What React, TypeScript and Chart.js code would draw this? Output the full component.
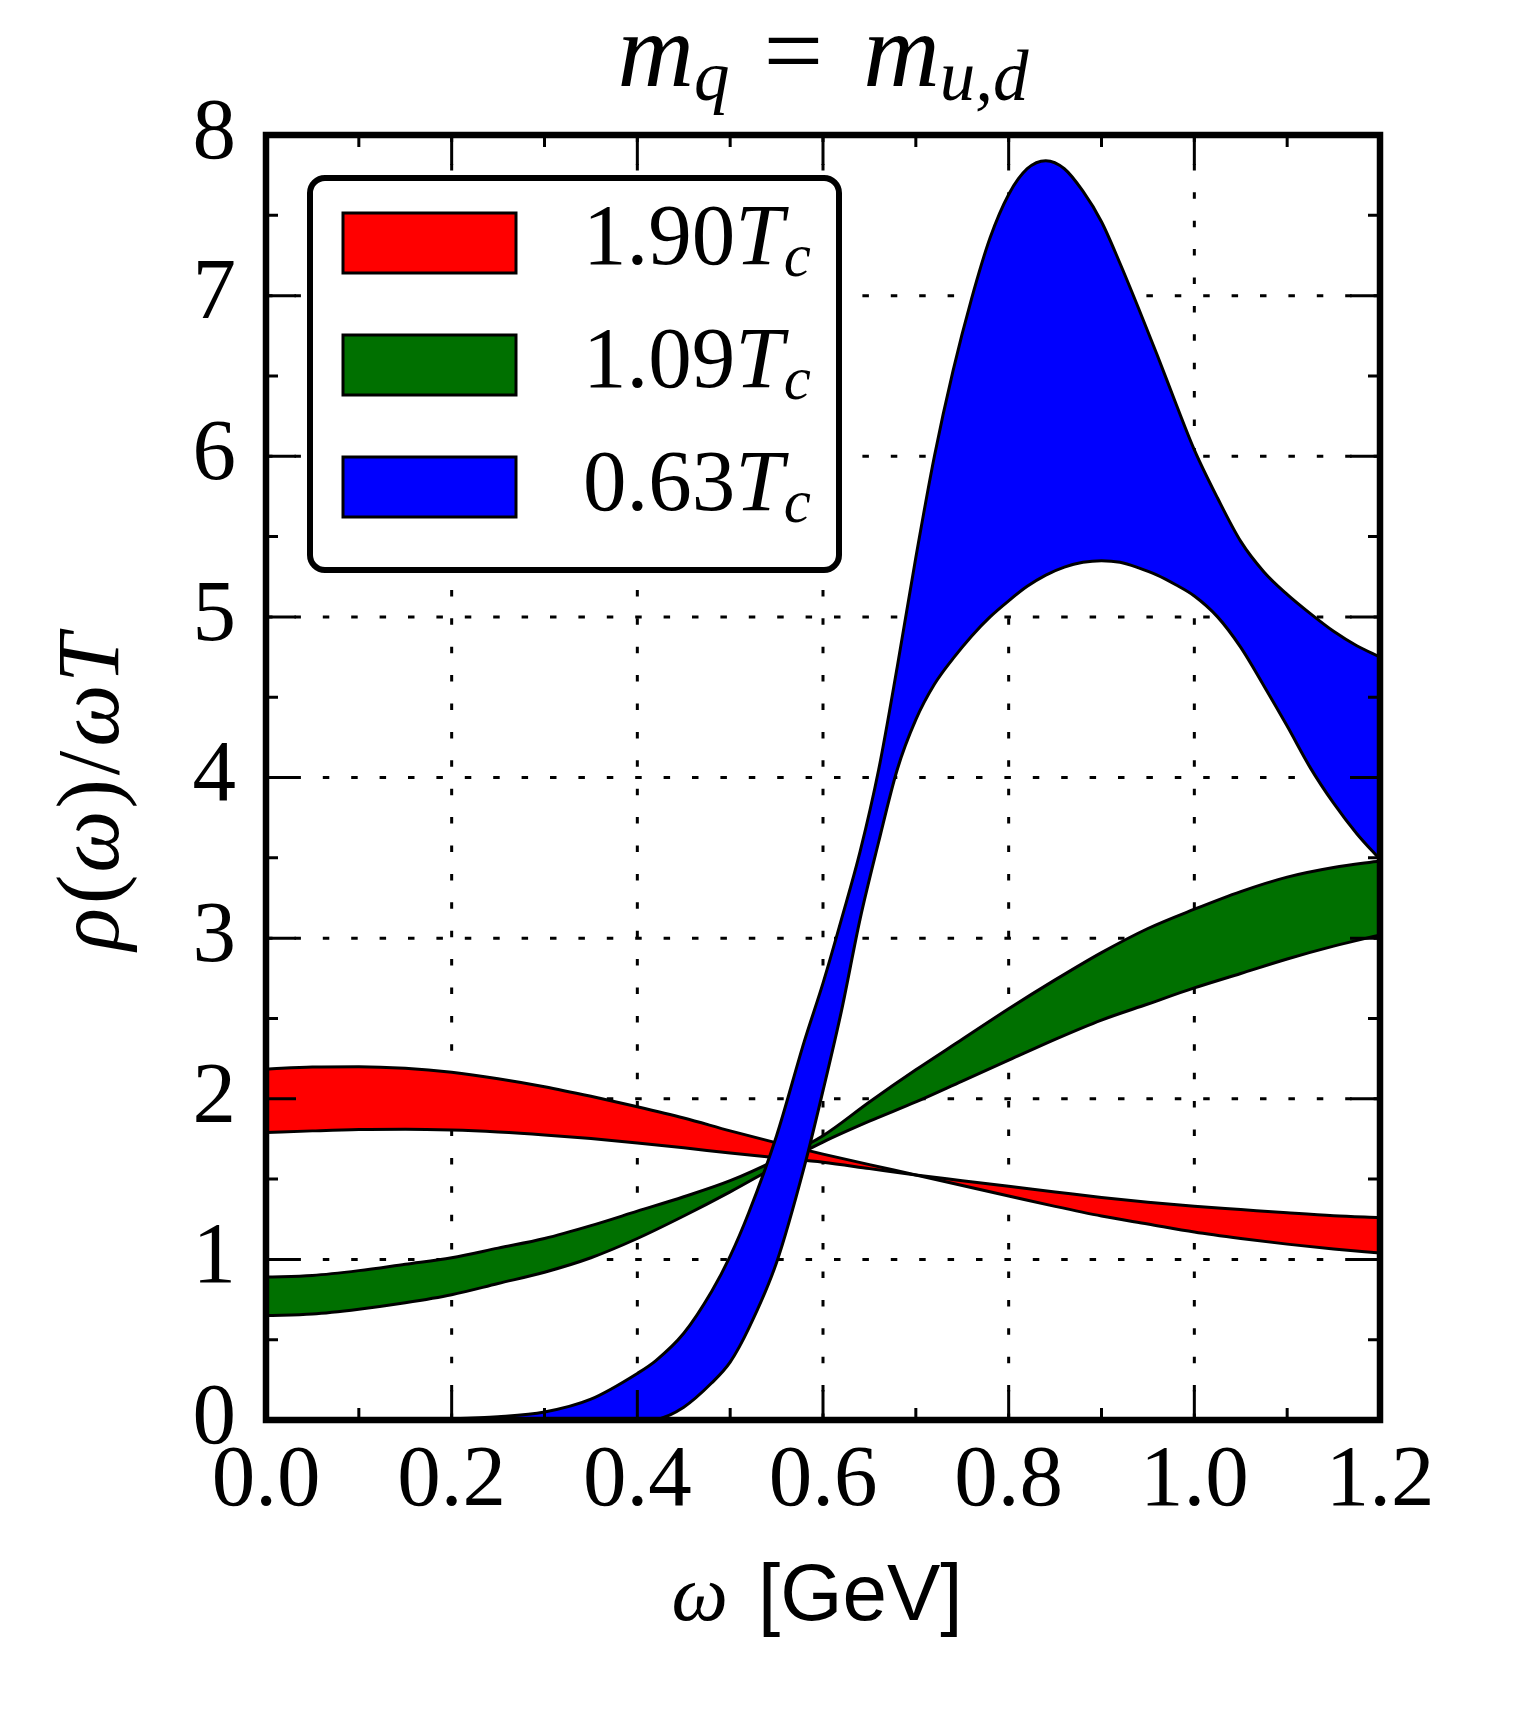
import { useEffect, useRef } from "react"
import { Chart, registerables } from "chart.js"

Chart.register(...registerables)

// omega grid (GeV) shared by the red and green bands
const omega = [0, 0.05, 0.1, 0.15, 0.2, 0.25, 0.3, 0.35, 0.4, 0.45, 0.5, 0.55, 0.6, 0.65, 0.7, 0.75, 0.8, 0.85, 0.9, 0.95, 1.0, 1.05, 1.1, 1.15, 1.2]

// 1.90 Tc band
const redUpper = [2.185, 2.198, 2.2, 2.19, 2.165, 2.125, 2.075, 2.015, 1.95, 1.88, 1.8, 1.725, 1.655, 1.59, 1.525, 1.46, 1.395, 1.33, 1.27, 1.22, 1.17, 1.13, 1.095, 1.065, 1.04]
const redLower = [1.79, 1.8, 1.808, 1.81, 1.805, 1.793, 1.775, 1.752, 1.725, 1.695, 1.662, 1.632, 1.605, 1.565, 1.525, 1.49, 1.455, 1.42, 1.385, 1.355, 1.33, 1.31, 1.29, 1.272, 1.26]

// 1.09 Tc band
const greenUpper = [0.89, 0.9, 0.93, 0.97, 1.01, 1.07, 1.13, 1.21, 1.3, 1.39, 1.49, 1.62, 1.77, 1.98, 2.18, 2.37, 2.56, 2.74, 2.91, 3.06, 3.18, 3.29, 3.38, 3.44, 3.48]
const greenLower = [0.65, 0.66, 0.69, 0.73, 0.78, 0.85, 0.92, 1.01, 1.13, 1.27, 1.42, 1.58, 1.73, 1.86, 1.98, 2.11, 2.24, 2.37, 2.49, 2.59, 2.69, 2.78, 2.87, 2.95, 3.02]

// 0.63 Tc band (finer grid around the peak)
const blueOmega = [0, 0.05, 0.1, 0.15, 0.2, 0.25, 0.3, 0.35, 0.4, 0.42, 0.45, 0.48, 0.5, 0.52, 0.55, 0.58, 0.6, 0.62, 0.64, 0.66, 0.68, 0.7, 0.72, 0.74, 0.76, 0.78, 0.8, 0.82, 0.84, 0.86, 0.88, 0.9, 0.92, 0.94, 0.96, 0.98, 1.0, 1.025, 1.05, 1.075, 1.1, 1.125, 1.15, 1.175, 1.2]
const blueUpper = [0, 0, 0, 0.002, 0.007, 0.02, 0.05, 0.13, 0.29, 0.37, 0.54, 0.8, 1.02, 1.29, 1.77, 2.36, 2.72, 3.12, 3.54, 4.05, 4.69, 5.37, 6.0, 6.53, 6.98, 7.36, 7.63, 7.79, 7.84, 7.79, 7.65, 7.46, 7.2, 6.92, 6.63, 6.33, 6.04, 5.74, 5.47, 5.28, 5.14, 5.02, 4.91, 4.82, 4.75]
const blueLower = [0, 0, 0, 0, 0, 0, 0, 0, 0, 0.005, 0.08, 0.23, 0.36, 0.57, 0.98, 1.58, 2.05, 2.55, 3.12, 3.6, 4.05, 4.36, 4.58, 4.74, 4.88, 5.0, 5.1, 5.19, 5.26, 5.31, 5.34, 5.35, 5.34, 5.305, 5.26, 5.2, 5.13, 5.0, 4.81, 4.57, 4.32, 4.06, 3.84, 3.65, 3.49]

// ticks
const xMajor = [0, 0.2, 0.4, 0.6, 0.8, 1.0, 1.2]
const xMinor = [0.1, 0.3, 0.5, 0.7, 0.9, 1.1]
const yMajor = [0, 1, 2, 3, 4, 5, 6, 7, 8]
const yMinor = [0.5, 1.5, 2.5, 3.5, 4.5, 5.5, 6.5, 7.5]

// legend
const legendValues = ["1.90", "1.09", "0.63"]
const bandColors = ["#ff0000", "#007000", "#0000ff"]

const SERIF = '"Liberation Serif", "DejaVu Serif", serif'
const SANS = '"Liberation Sans", "DejaVu Sans", sans-serif'

type Run = { text: string; font: string; dy?: number; gap?: number }

const runsWidth = (ctx: CanvasRenderingContext2D, runs: Run[]) =>
  runs.reduce((w, r) => {
    ctx.font = r.font
    return w + (r.gap || 0) + ctx.measureText(r.text).width
  }, 0)

const drawRuns = (ctx: CanvasRenderingContext2D, runs: Run[], x: number, y: number) => {
  let cx = x
  for (const r of runs) {
    cx += r.gap || 0
    ctx.font = r.font
    ctx.fillText(r.text, cx, y + (r.dy || 0))
    cx += ctx.measureText(r.text).width
  }
}

const toPoints = (xs: number[], ys: number[]) => xs.map((x, i) => ({ x, y: ys[i] }))

// matplotlib-like frame, inward ticks, dotted grid, legend and labels
const framePlugin = {
  id: "mplFrame",
  beforeDatasetsDraw(chart: any) {
    const { ctx, chartArea: a, scales } = chart
    ctx.save()
    ctx.strokeStyle = "#000"
    ctx.lineWidth = 3
    ctx.setLineDash([6.5, 21.9])
    xMajor.slice(1, -1).forEach((v) => {
      const px = scales.x.getPixelForValue(v)
      ctx.beginPath()
      ctx.moveTo(px, a.bottom)
      ctx.lineTo(px, a.top)
      ctx.stroke()
    })
    yMajor.slice(1, -1).forEach((v) => {
      const py = scales.y.getPixelForValue(v)
      ctx.beginPath()
      ctx.moveTo(a.left, py)
      ctx.lineTo(a.right, py)
      ctx.stroke()
    })
    ctx.restore()
  },
  afterDatasetsDraw(chart: any) {
    const { ctx, chartArea: a, scales } = chart
    ctx.save()
    ctx.strokeStyle = "#000"
    ctx.lineWidth = 3
    const tick = (vals: number[], len: number) => {
      vals.forEach((v) => {
        const px = scales.x.getPixelForValue(v)
        ctx.beginPath()
        ctx.moveTo(px, a.bottom)
        ctx.lineTo(px, a.bottom - len)
        ctx.moveTo(px, a.top)
        ctx.lineTo(px, a.top + len)
        ctx.stroke()
      })
    }
    const ytick = (vals: number[], len: number) => {
      vals.forEach((v) => {
        const py = scales.y.getPixelForValue(v)
        ctx.beginPath()
        ctx.moveTo(a.left, py)
        ctx.lineTo(a.left + len, py)
        ctx.moveTo(a.right, py)
        ctx.lineTo(a.right - len, py)
        ctx.stroke()
      })
    }
    tick(xMajor, 30)
    tick(xMinor, 12)
    ytick(yMajor, 30)
    ytick(yMinor, 12)
    ctx.lineWidth = 6.5
    ctx.lineJoin = "miter"
    ctx.strokeRect(a.left, a.top, a.right - a.left, a.bottom - a.top)
    ctx.restore()
  },
  afterDraw(chart: any) {
    const { ctx, chartArea: a } = chart
    ctx.save()
    ctx.fillStyle = "#000"
    ctx.textAlign = "left"
    ctx.textBaseline = "alphabetic"

    // legend box
    ctx.beginPath()
    ctx.roundRect(310, 178, 529, 392, 15)
    ctx.fillStyle = "#fff"
    ctx.fill()
    ctx.lineWidth = 6
    ctx.strokeStyle = "#000"
    ctx.stroke()
    legendValues.forEach((val, i) => {
      const top = 213 + i * 122
      ctx.fillStyle = bandColors[i]
      ctx.fillRect(343, top, 173, 60)
      ctx.lineWidth = 3
      ctx.strokeStyle = "#000"
      ctx.strokeRect(343, top, 173, 60)
      ctx.fillStyle = "#000"
      drawRuns(
        ctx,
        [
          { text: val, font: `87px ${SERIF}` },
          { text: "T", font: `italic 87px ${SERIF}` },
          { text: "c", font: `italic 61px ${SERIF}`, dy: 12 },
        ],
        583,
        264 + i * 123,
      )
    })

    // title
    const cx = (a.left + a.right) / 2
    const title: Run[] = [
      { text: "m", font: `italic 106px ${SERIF}` },
      { text: "q", font: `italic 71px ${SERIF}`, dy: 14 },
      { text: "=", font: `106px ${SERIF}`, gap: 34 },
      { text: "m", font: `italic 106px ${SERIF}`, gap: 40 },
      { text: "u,d", font: `italic 71px ${SERIF}`, dy: 14 },
    ]
    drawRuns(ctx, title, cx - runsWidth(ctx, title) / 2, 86)

    // x label
    const xl: Run[] = [
      { text: "ω", font: `italic 80px ${SERIF}` },
      { text: "[GeV]", font: `80px ${SANS}`, gap: 30 },
    ]
    drawRuns(ctx, xl, cx - 6 - runsWidth(ctx, xl) / 2, 1620)

    // y label
    const yl: Run[] = [
      { text: "ρ", font: `italic 88px ${SERIF}` },
      { text: "(", font: `88px ${SERIF}`, gap: 4 },
      { text: "ω", font: `italic 88px ${SERIF}`, gap: 2 },
      { text: ")", font: `88px ${SERIF}`, gap: 2 },
      { text: "/", font: `88px ${SERIF}`, gap: 4 },
      { text: "ω", font: `italic 88px ${SERIF}`, gap: 4 },
      { text: "T", font: `italic 88px ${SERIF}`, gap: 2 },
    ]
    ctx.translate(118, 792)
    ctx.rotate(-Math.PI / 2)
    drawRuns(ctx, yl, -runsWidth(ctx, yl) / 2, 0)
    ctx.restore()
  },
}

export default function App() {
  const canvasRef = useRef<HTMLCanvasElement | null>(null)

  useEffect(() => {
    document.body.style.margin = "0"
    const canvas = canvasRef.current
    if (!canvas) return

    // each band: upper edge (no fill) then lower edge filled up to it
    const band = (upper: number[], lower: number[], xs: number[], color: string) => [
      { data: toPoints(xs, upper), fill: false, backgroundColor: color },
      { data: toPoints(xs, lower), fill: "-1", backgroundColor: color },
    ]

    const chart = new Chart(canvas, {
      type: "line",
      data: {
        datasets: [
          ...band(blueUpper, blueLower, blueOmega, bandColors[2]),
          ...band(greenUpper, greenLower, omega, bandColors[1]),
          ...band(redUpper, redLower, omega, bandColors[0]),
        ] as any,
      },
      options: {
        responsive: false,
        devicePixelRatio: 1,
        animation: false,
        layout: { padding: { top: 135, right: 136, left: 0, bottom: 0 } },
        elements: {
          line: { borderWidth: 3, borderColor: "#000", cubicInterpolationMode: "monotone" },
          point: { radius: 0, hoverRadius: 0 },
        },
        plugins: {
          legend: { display: false },
          tooltip: { enabled: false },
        },
        scales: {
          x: {
            type: "linear",
            min: 0,
            max: 1.2,
            grid: { display: false, drawTicks: false },
            border: { display: false },
            ticks: {
              stepSize: 0.2,
              autoSkip: false,
              maxRotation: 0,
              padding: 10,
              color: "#000",
              font: { family: SERIF, size: 87 },
              callback: (v: any) => Number(v).toFixed(1),
            },
            afterFit: (scale: any) => {
              scale.height = 298
            },
          },
          y: {
            type: "linear",
            min: 0,
            max: 8,
            grid: { display: false, drawTicks: false },
            border: { display: false },
            ticks: {
              stepSize: 1,
              autoSkip: false,
              padding: 30,
              color: "#000",
              font: { family: SERIF, size: 87 },
              callback: (v: any) => String(Math.round(Number(v))),
            },
            afterFit: (scale: any) => {
              scale.width = 266
            },
          },
        },
      },
      plugins: [framePlugin],
    })

    return () => chart.destroy()
  }, [])

  return <canvas ref={canvasRef} width={1516} height={1718} style={{ display: "block", width: 1516, height: 1718 }} />
}
